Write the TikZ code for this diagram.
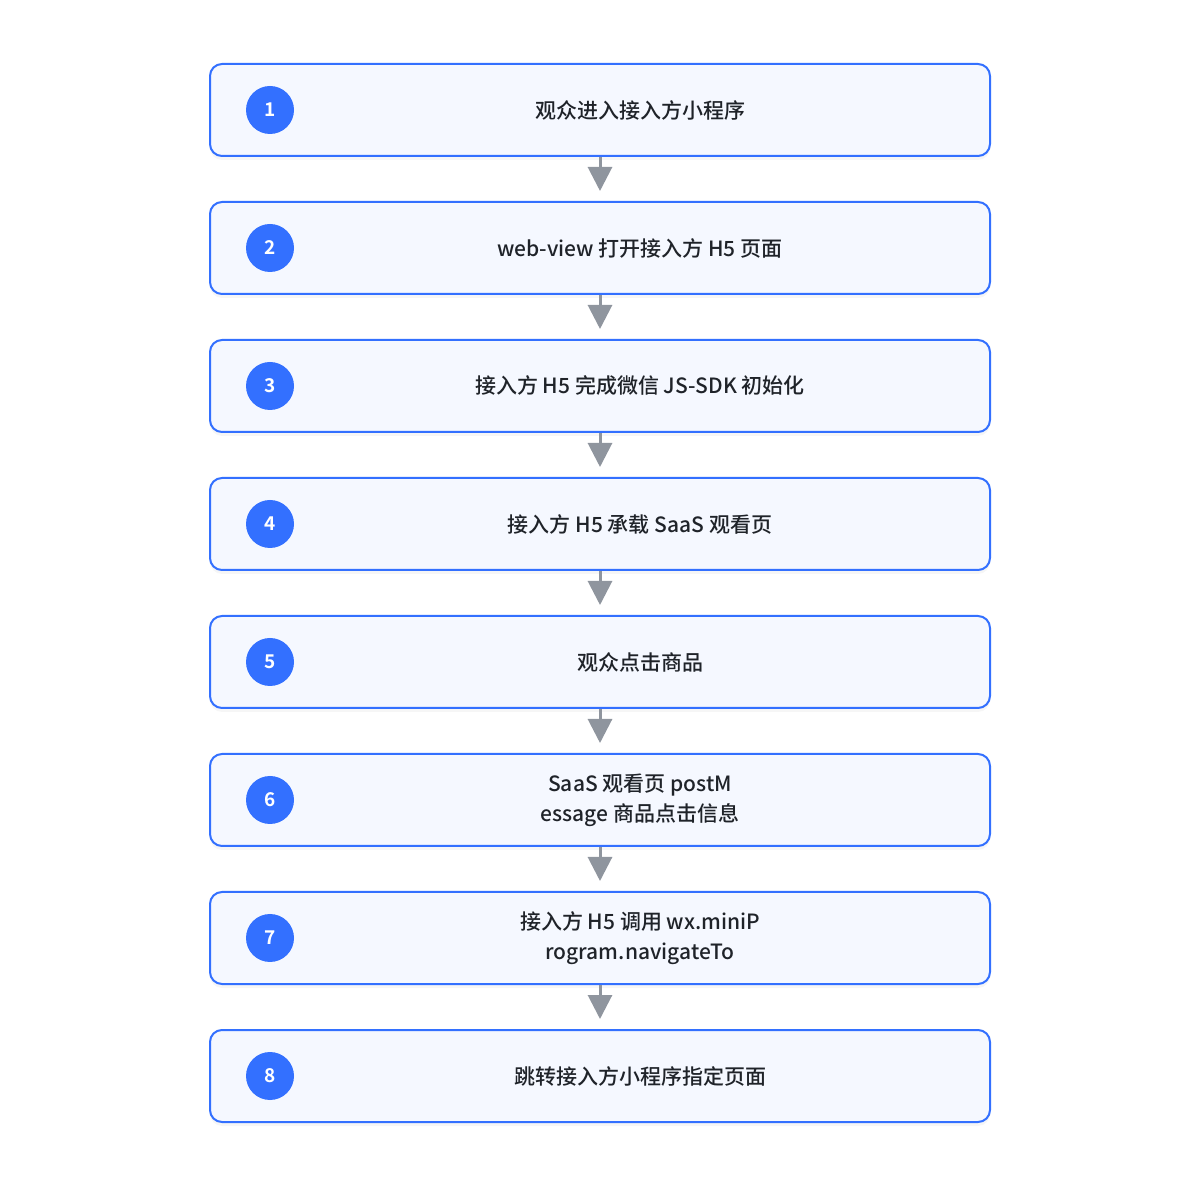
\documentclass[tikz,border=0pt]{standalone}
\usepackage{fontspec}
\setmainfont{Noto Sans CJK SC}[BoldFont={Noto Sans CJK SC Medium}]
\newfontfamily\numfont{Noto Sans CJK SC Bold}
\usetikzlibrary{arrows.meta,shadows}
\definecolor{bblue}{HTML}{3370FF}
\definecolor{bfill}{HTML}{F5F8FF}
\definecolor{tdark}{HTML}{1F2329}
\definecolor{agray}{HTML}{8F959E}
\tikzset{
  stepbox/.style={draw=bblue, line width=1pt, fill=bfill, rounded corners=6pt,
    minimum width=390pt, minimum height=46pt, inner sep=0pt,
    drop shadow={opacity=0.07, shadow xshift=0pt, shadow yshift=-2pt}},
  numdot/.style={circle, fill=bblue, minimum size=24pt, inner sep=0pt,
    text=white, font=\numfont\fontsize{9.5}{9.5}\selectfont},
  steptext/.style={text=tdark, align=center, inner sep=0pt,
    font=\fontsize{10.5}{15}\selectfont\bfseries},
  arr/.style={draw=agray, line width=1.5pt, -{Triangle[length=12pt,width=12pt]}, color=agray}
}
\begin{document}
\begin{tikzpicture}[x=0.5pt,y=-0.5pt]
\useasboundingbox (0,0) rectangle (1200,1186);
\foreach \i/\y/\t in {
  1/110/{观众进入接入方小程序},
  2/248/{web-view 打开接入方 H5 页面},
  3/386/{接入方 H5 完成微信 JS-SDK 初始化},
  4/524/{接入方 H5 承载 SaaS 观看页},
  5/662/{观众点击商品},
  6/800/{SaaS 观看页 postM\\essage 商品点击信息},
  7/938/{接入方 H5 调用 wx.miniP\\rogram.navigateTo},
  8/1076/{跳转接入方小程序指定页面}}{
  \node[stepbox] (b\i) at (600,\y) {};
  \node[numdot] (n\i) at (270,\y) {\i};
  \node[steptext] (t\i) at (640,\y) {\t};
}
\foreach \i [evaluate=\i as \j using int(\i+1)] in {1,...,7}{
  \draw[arr] (b\i.south) -- ([yshift=5pt]b\j.north);
}
\end{tikzpicture}
\end{document}
